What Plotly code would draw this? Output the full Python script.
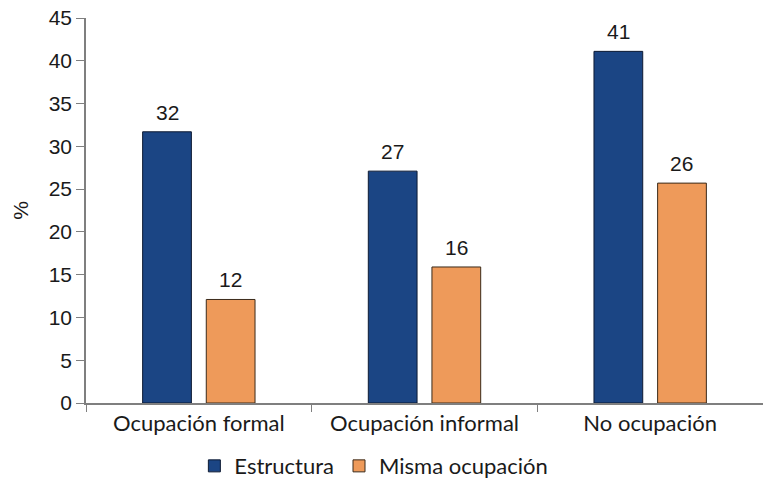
import plotly.graph_objects as go

categories = ["Ocupación formal", "Ocupación informal", "No ocupación"]
estructura = [31.7, 27.1, 41.1]
misma = [12.1, 15.9, 25.7]
estructura_labels = ["32", "27", "41"]
misma_labels = ["12", "16", "26"]

num_font = dict(family="Liberation Sans, Arial", size=21, color="#1a1a1a")
txt_font = dict(family="Lato, Noto Sans", size=22, color="#1a1a1a")

BAR_W = 0.216
OFF_A = -0.249
OFF_B = 0.033

fig = go.Figure()
fig.add_trace(go.Bar(
    x=categories, y=estructura, name="Estructura",
    marker=dict(color="#1B4584", line=dict(color="#0d1a33", width=1)),
    width=BAR_W, offset=OFF_A,
))
fig.add_trace(go.Bar(
    x=categories, y=misma, name="Misma ocupación",
    marker=dict(color="#EE9A5A", line=dict(color="#3a2a1a", width=1)),
    width=BAR_W, offset=OFF_B,
))

for series, labels, off in [(estructura, estructura_labels, OFF_A),
                            (misma, misma_labels, OFF_B)]:
    for i, (v, lab) in enumerate(zip(series, labels)):
        fig.add_annotation(x=i + off + BAR_W / 2, y=v, xref="x", yref="y",
                           text=lab, showarrow=False, font=num_font,
                           yanchor="bottom", yshift=6)

fig.update_layout(
    width=763, height=479,
    margin=dict(l=86, r=0, t=18, b=76),
    plot_bgcolor="white", paper_bgcolor="white",
    showlegend=True,
    legend=dict(orientation="h", xref="container", yref="container",
                x=0.49, xanchor="center", y=0.027, yanchor="middle",
                font=txt_font, itemwidth=30, traceorder="normal"),
    xaxis=dict(showline=True, linecolor="#7f7f7f", linewidth=1.5,
               ticks="outside", tickson="boundaries", ticklen=7,
               tickcolor="#7f7f7f", tickfont=txt_font, showgrid=False),
    yaxis=dict(range=[0, 45], dtick=5, showline=True, linecolor="#7f7f7f",
               linewidth=1.5, ticks="outside", ticklen=8, tickcolor="#7f7f7f",
               tickfont=num_font, showgrid=False, zeroline=False,
               title=dict(text="%", font=num_font, standoff=14)),
)

fig.write_html("out.html", config={"displayModeBar": False},
               post_script="document.body.style.margin='0';document.body.style.overflow='hidden';")
